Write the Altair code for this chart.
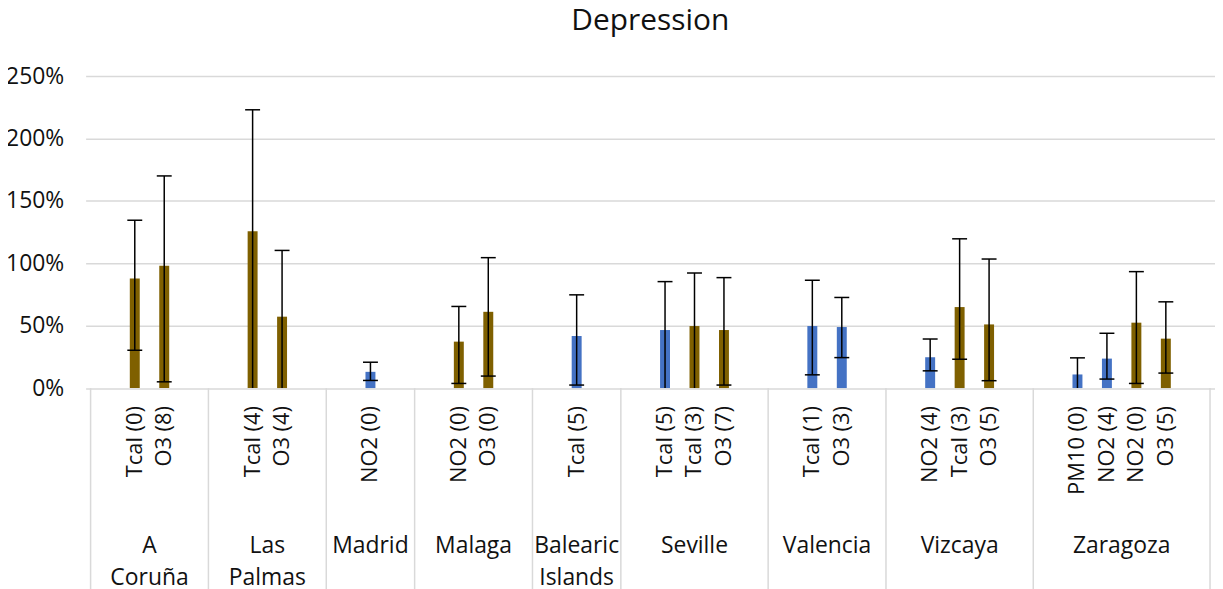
import altair as alt
import pandas as pd

groups = ["A Coruña", "Las Palmas", "Madrid", "Malaga", "Balearic Islands",
          "Seville", "Valencia", "Vizcaya", "Zaragoza"]
group_text = ["A\nCoruña", "Las\nPalmas", "Madrid", "Malaga", "Balearic\nIslands",
              "Seville", "Valencia", "Vizcaya", "Zaragoza"]
bar_labels = [["Tcal (0)", "O3 (8)"], ["Tcal (4)", "O3 (4)"], ["NO2 (0)"],
              ["NO2 (0)", "O3 (0)"], ["Tcal (5)"], ["Tcal (5)", "Tcal (3)", "O3 (7)"],
              ["Tcal (1)", "O3 (3)"], ["NO2 (4)", "Tcal (3)", "O3 (5)"],
              ["PM10 (0)", "NO2 (4)", "NO2 (0)", "O3 (5)"]]
series = [["B", "B"], ["B", "B"], ["A"], ["B", "B"], ["A"], ["A", "B", "B"],
          ["A", "A"], ["A", "B", "B"], ["A", "A", "B", "B"]]
values = [[87.7, 98.0], [125.7, 57.2], [13.0], [37.2, 61.1], [41.7],
          [46.5, 49.7, 46.5], [49.7, 48.9], [24.7, 64.9, 51.0],
          [10.9, 23.6, 52.4, 39.6]]
err_low = [[30.3, 5.0], [-30.0, -5.0], [6.1], [3.7, 9.6], [2.4],
           [-10.0, -5.0, 2.4], [10.6, 24.4], [13.8, 23.1, 5.9],
           [-3.0, 7.2, 3.7, 12.0]]
err_high = [[134.5, 170.0], [223.0, 110.3], [20.7], [65.4, 104.5], [74.7],
            [85.3, 92.2, 88.5], [86.4, 72.6], [39.3, 119.6, 103.4],
            [24.2, 43.9, 93.3, 69.1]]
y_ticks = [0, 50, 100, 150, 200, 250]
colors = {"A": "#4472C4", "B": "#7F6000"}

rows, bounds, grows = [], [], []
start = 0
for g, gt, labs, ser, vals, lo, hi in zip(groups, group_text, bar_labels, series,
                                           values, err_low, err_high):
    n = len(labs)
    bounds.append({"bx": start})
    grows.append({"group": g, "gtext": gt, "gc": start + (n + 2) / 2})
    for j in range(n):
        rows.append({"group": g, "label": labs[j], "series": ser[j],
                     "value": vals[j], "lo": lo[j], "hi": hi[j],
                     "xc": start + 1 + j + 0.5})
    start += n + 2
bounds.append({"bx": start})
total = start

df = pd.DataFrame(rows)
caps_rows = [{"xc": r["xc"], "cap": r["lo"]} for r in rows if r["lo"] >= 0] + \
            [{"xc": r["xc"], "cap": r["hi"]} for r in rows]
caps = pd.DataFrame(caps_rows)
bdf = pd.DataFrame(bounds)
gdf = pd.DataFrame(grows)

W, H = 1135, 313.5
FONT = "Open Sans"
TXT = "#111111"

xs = alt.Scale(domain=[0, total], nice=False, zero=False)
ys = alt.Scale(domain=[0, 250], nice=False)

yaxis = alt.Axis(values=y_ticks, labelExpr="datum.value + '%'", domain=False,
                 ticks=False, grid=True, gridColor="#d9d9d9", gridWidth=1.5,
                 labelFontSize=23, labelFont=FONT, labelColor=TXT,
                 labelPadding=22, title=None)


def X(field):
    return alt.X(field, scale=xs, axis=None)


base = alt.Chart(df)
bars = base.mark_bar(width=10).encode(
    x=X("xc:Q"),
    y=alt.Y("value:Q", scale=ys, axis=yaxis),
    color=alt.Color("series:N", scale=alt.Scale(domain=list(colors),
                                                range=list(colors.values())),
                    legend=None),
)
whisk = base.mark_rule(color="#000000", strokeWidth=1.5, clip=True).encode(
    x=X("xc:Q"), y=alt.Y("lo:Q", scale=ys), y2="hi:Q")
capm = alt.Chart(caps).mark_rule(color="#000000", strokeWidth=1.5,
                                 xOffset=-7.5, x2Offset=7.5).encode(
    x=X("xc:Q"), x2="xc:Q", y=alt.Y("cap:Q", scale=ys))
seps = alt.Chart(bdf).mark_rule(color="#d9d9d9", strokeWidth=1.5).encode(
    x=X("bx:Q"), y=alt.value(H), y2=alt.value(H + 210))
leaf = base.mark_text(angle=270, align="right", baseline="middle", fontSize=22,
                      font=FONT, color=TXT).encode(
    x=X("xc:Q"), y=alt.value(H + 18), text="label:N")
glab = alt.Chart(gdf).mark_text(align="center", baseline="alphabetic", fontSize=23,
                                font=FONT, color=TXT, lineBreak="\n",
                                lineHeight=32).encode(
    x=X("gc:Q"), y=alt.value(H + 165.5), text="gtext:N")

chart = alt.layer(seps, bars, whisk, capm, leaf, glab).properties(
    width=W, height=H,
    title=alt.TitleParams("Depression", fontSize=30, font=FONT, fontWeight="normal",
                          color=TXT, anchor="middle", offset=29),
    autosize=alt.AutoSizeParams(type="none"),
    padding={"left": 78, "top": 67, "right": 0, "bottom": 200},
).configure_view(stroke=None)

chart.save("out.html", embed_options={"renderer": "svg", "actions": False})
